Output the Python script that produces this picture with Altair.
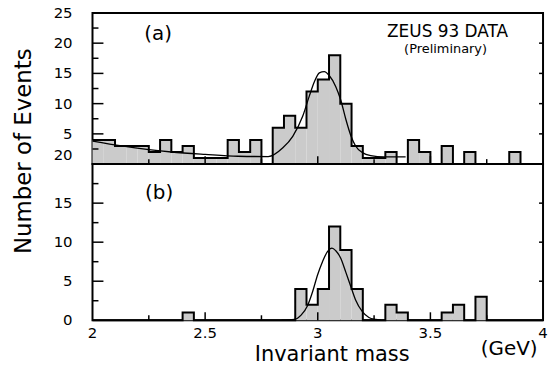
import altair as alt
import pandas as pd

# Histogram binning: 40 bins of 0.05 GeV between 2.0 and 4.0 GeV
bin_lo = [round(2.0 + 0.05 * i, 2) for i in range(40)]
bin_hi = [round(b + 0.05, 2) for b in bin_lo]

# (a) all candidates
counts_a = [4, 4, 3, 3, 3, 2, 4, 2, 3, 1,
            1, 1, 4, 2, 4, 0, 6, 8, 6, 12,
            14, 18, 10, 3, 1, 1, 2, 0, 4, 2,
            0, 3, 0, 2, 0, 0, 0, 2, 0, 0]
# (b) selected sample
counts_b = [0, 0, 0, 0, 0, 0, 0, 0, 1, 0,
            0, 0, 0, 0, 0, 0, 0, 0, 4, 2,
            4, 12, 9, 4, 0, 0, 2, 1, 0, 0,
            0, 1, 2, 0, 3, 0, 0, 0, 0, 0]

# Fitted curves (signal + background for (a), signal only for (b))
fit_a_x = [2.00, 2.13, 2.25, 2.35, 2.50, 2.645, 2.78, 2.845, 2.889, 2.933,
           2.962, 2.985, 3.007, 3.029, 3.05, 3.08, 3.102, 3.124, 3.147,
           3.168, 3.198, 3.235, 3.294, 3.39]
fit_a_y = [3.8, 3.0, 2.4, 2.0, 1.6, 1.3, 1.25, 2.7, 4.6, 7.9,
           11.2, 13.6, 15.1, 15.3, 14.7, 12.8, 10.6, 7.5, 4.7,
           3.0, 1.9, 1.4, 1.2, 1.2]
fit_b_x = [2.84, 2.896, 2.926, 2.955, 2.977, 2.999, 3.021, 3.043, 3.063,
           3.08, 3.102, 3.124, 3.147, 3.168, 3.198, 3.227, 3.257, 3.28]
fit_b_y = [0.0, 0.1, 0.65, 1.9, 3.65, 5.8, 7.5, 8.8, 9.25,
           8.9, 7.95, 6.2, 4.3, 2.6, 1.1, 0.35, 0.1, 0.0]

# Axis tick positions and labels
x_label_vals = [2.0, 2.5, 3.0, 3.5, 4.0]
x_label_text = ["2", "2.5", "3", "3.5", "4"]
x_major = [2.5, 3.0, 3.5]
x_minor = [2.25, 2.75, 3.25, 3.75]

ya_label_vals = [5, 10, 15, 20, 25]
yb_label_vals = [0, 5, 10, 15]

FONT = "DejaVu Sans"
FILL = "#cbcbcb"
W = 453


def txt(s, x, y, size, align="center", angle=0):
    return alt.Chart(pd.DataFrame({"t": [s]})).mark_text(
        font=FONT, fontSize=size, align=align, baseline="middle",
        color="black", angle=angle
    ).encode(text="t:N", x=alt.value(x), y=alt.value(y))


def panel(counts, ymax, height, fx, fy, y_major, y_minor, y_labels, show_x):
    xs = alt.Scale(domain=[2, 4], nice=False, zero=False)
    ys = alt.Scale(domain=[0, ymax], nice=False, zero=True)

    bars = pd.DataFrame({"lo": bin_lo, "hi": bin_hi, "n": counts, "base": 0})
    step = pd.DataFrame({"edge": bin_lo + [4.0], "n": counts + [counts[-1]]})
    fit = pd.DataFrame({"m": fx, "n": fy})

    fill = alt.Chart(bars).mark_rect(color=FILL).encode(
        x=alt.X("lo:Q", scale=xs, axis=None),
        x2="hi:Q",
        y=alt.Y("n:Q", scale=ys, axis=None),
        y2="base:Q",
    )
    outline = alt.Chart(step).mark_line(
        interpolate="step-after", color="black", strokeWidth=2
    ).encode(
        x=alt.X("edge:Q", scale=xs, axis=None),
        y=alt.Y("n:Q", scale=ys, axis=None),
    )
    curve = alt.Chart(fit).mark_line(
        interpolate="monotone", color="black", strokeWidth=1.3
    ).encode(
        x=alt.X("m:Q", scale=xs, axis=None),
        y=alt.Y("n:Q", scale=ys, axis=None),
    )

    def yticks(vals, length, side):
        df = pd.DataFrame({"v": vals})
        x0, x1 = (0, length) if side == "left" else (W - length, W)
        return alt.Chart(df).mark_rule(color="black", strokeWidth=1.5).encode(
            y=alt.Y("v:Q", scale=ys, axis=None),
            x=alt.value(x0), x2=alt.value(x1),
        )

    def xticks(vals, length):
        df = pd.DataFrame({"v": vals})
        return alt.Chart(df).mark_rule(color="black", strokeWidth=1.5).encode(
            x=alt.X("v:Q", scale=xs, axis=None),
            y=alt.value(height), y2=alt.value(height - length),
        )

    ylab = alt.Chart(pd.DataFrame({"v": y_labels,
                                   "t": [str(v) for v in y_labels]})).mark_text(
        font=FONT, fontSize=15, align="right", baseline="middle", color="black"
    ).encode(
        y=alt.Y("v:Q", scale=ys, axis=None),
        x=alt.value(-20),
        text="t:N",
    )

    layers = [fill, outline, curve,
              yticks(y_major, 11, "left"), yticks(y_minor, 6, "left"),
              yticks(y_major, 4, "right"),
              xticks(x_major, 8), xticks(x_minor, 5), ylab]

    if show_x:
        xlab = alt.Chart(pd.DataFrame({"v": x_label_vals,
                                       "t": x_label_text})).mark_text(
            font=FONT, fontSize=15, align="center", baseline="middle",
            color="black"
        ).encode(
            x=alt.X("v:Q", scale=xs, axis=None),
            y=alt.value(height + 13),
            text="t:N",
        )
        layers.append(xlab)
    return layers


# invisible anchor fixing the page origin relative to the plot
anchor = alt.Chart(pd.DataFrame({"t": [0]})).mark_rule(
    strokeOpacity=0, strokeWidth=0
).encode(x=alt.value(-92), x2=alt.value(-92), y=alt.value(-11), y2=alt.value(-10))

# ---- panel (a) ----
H_A = 152
layers_a = panel(counts_a, 25, H_A, fit_a_x, fit_a_y,
                 [5, 10, 15, 20], [2.5, 7.5, 12.5, 17.5, 22.5],
                 ya_label_vals, False)
layers_a += [
    txt("(a)", 66, 21, 20),
    txt("ZEUS 93 DATA", 357, 19, 17),
    txt("(Preliminary)", 355, 36, 13),
    txt("Number of Events", -69, 139, 23, angle=270),
    anchor,
]
pa = alt.layer(*layers_a).properties(width=W, height=H_A)

# ---- panel (b) ----
H_B = 157
layers_b = panel(counts_b, 20, H_B, fit_b_x, fit_b_y,
                 [5, 10, 15], [2.5, 7.5, 12.5, 17.5],
                 yb_label_vals, True)
layers_b += [
    txt("(b)", 67, 29, 20),
    txt("20", -20, -9, 15, align="right"),
    txt("Invariant mass", 241, 192, 21),
    txt("(GeV)", 419, 186, 20),
]
pb = alt.layer(*layers_b).properties(width=W, height=H_B)

chart = alt.vconcat(pa, pb, spacing=0, bounds="flush").properties(
    padding={"left": 0, "top": 0, "right": 0, "bottom": 0},
    background="white",
).configure_view(
    stroke="black", strokeWidth=2
)

chart.save("out.html", embed_options={"renderer": "svg", "actions": False})
